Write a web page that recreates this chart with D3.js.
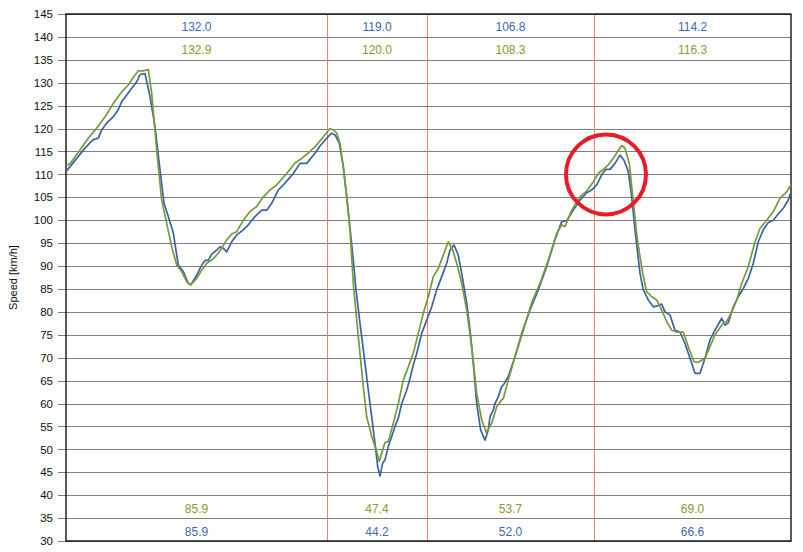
<!DOCTYPE html>
<html>
<head>
<meta charset="utf-8">
<script src="https://cdn.jsdelivr.net/npm/d3@7/dist/d3.min.js"></script>
<style>
  html, body { margin: 0; padding: 0; background: #fff; }
  svg { display: block; font-family: "Liberation Sans", Arial, sans-serif; }
</style>
</head>
<body>
<svg id="chart" width="803" height="552"></svg>
<script>
// ---- Data ----
const yTicks = [30,35,40,45,50,55,60,65,70,75,80,85,90,95,100,105,110,115,120,125,130,135,140,145];
const distanceRange = [0, 725];
const sectorBounds = [261, 361, 528];

// Lap 1 (blue): [distance, speed km/h]
const lapBlue = [
  [0,110.6],[4,111.7],[10.7,113.5],[17.3,115.3],[24,116.9],[27.3,117.6],[32.3,117.9],[35.7,119.7],
  [40.7,121.2],[47.3,122.6],[52.3,124.1],[55.7,125.9],[60.7,127.3],[65.7,128.8],[70.7,130.2],[74,131.8],
  [79,132.0],[84,127.0],[89,120.4],[94,111.0],[98,103.7],[102.3,100.8],[107.3,97.2],[112.3,90.2],
  [117.3,88.8],[122.3,86.2],[124.7,85.9],[130.7,88.0],[135.7,90.2],[139,91.2],[142.3,91.3],[145.7,92.6],
  [150.7,93.5],[154,94.2],[157.3,93.9],[160.7,93.1],[165.7,95.3],[170.7,96.8],[177.3,97.9],[182.3,99.0],
  [189,100.8],[195.7,102.2],[200.7,102.2],[205.7,103.7],[212.3,106.6],[219,108.1],[227.3,110.2],[234,112.4],
  [240.7,112.4],[249,114.6],[254,116.2],[260.7,117.9],[265.7,119.0],[269,118.6],[273.3,116.8],[277.3,111.7],
  [280.7,105.1],[284,98.3],[287.3,91.3],[290,84.8],[294,77.5],[299,68.8],[302.3,62.9],[305.7,57.1],
  [309,51.3],[311.7,46.2],[314,44.2],[316.7,47.0],[319,47.7],[322.3,50.6],[325.7,52.8],[329,55.0],
  [332.3,56.8],[335.7,60.0],[340.7,62.9],[344,65.5],[347.3,68.4],[350.7,70.9],[355.7,75.3],[360.7,78.2],
  [365.7,81.1],[370.7,84.8],[375.7,87.7],[380.7,90.6],[384,93.5],[388,94.6],[392.3,92.4],[395.7,88.4],
  [400.7,81.9],[404,76.0],[407.3,68.8],[410.7,60.0],[414.7,54.2],[419,52.0],[422.3,54.2],[424,57.1],
  [427.3,58.6],[429,60.0],[432.3,61.5],[435.7,63.7],[437.3,64.0],[442.3,65.9],[449,70.2],[455.7,75.3],
  [464,80.4],[472.3,84.8],[480.7,89.9],[489,95.8],[495.7,99.7],[500.7,99.9],[507.3,102.2],[514,104.4],
  [520.7,106.0],[525.7,106.6],[530.7,107.7],[535.7,109.9],[540,111.1],[544,111.1],[549,112.4],[554,114.2],
  [558,113.1],[562.3,110.6],[565.7,105.1],[569,97.9],[574,88.4],[577.3,84.8],[582.3,82.6],[587.3,81.1],
  [591.3,81.3],[595.7,81.7],[599,80.0],[604,79.3],[609,76.0],[614,75.6],[619,73.1],[624,69.9],
  [629,66.6],[634,66.6],[639,69.9],[644,73.9],[649,76.0],[655.7,78.6],[659,77.1],[662.3,77.6],
  [667.3,81.1],[672.3,83.3],[677.3,85.1],[682.3,87.3],[687.3,90.6],[692.3,95.3],[697.3,97.9],[702.3,99.5],
  [707.3,100.0],[712.3,101.4],[717.3,102.6],[722.3,104.4],[725,106.2]
];

// Lap 2 (green): [distance, speed km/h]
const lapGreen = [
  [0,112.0],[4,112.3],[14,115.3],[22.3,117.9],[30.7,120.1],[39,122.5],[47.3,125.5],[55.7,128.0],
  [62.3,129.5],[67.3,131.2],[72.3,132.6],[77.3,132.6],[82.3,132.9],[85.7,127.7],[90.7,115.3],[95.7,104.4],
  [100.7,99.3],[105.7,94.2],[110.7,90.2],[115.7,88.8],[120.7,86.6],[124.7,85.9],[130.7,87.3],[135.7,89.1],
  [140.7,90.6],[145.7,91.3],[150.7,92.4],[155.7,93.9],[160.7,95.7],[165.7,97.0],[170.7,97.5],[177.3,100.0],
  [184,101.9],[190.7,103.0],[197.3,105.1],[204,106.6],[210.7,107.7],[220.7,110.2],[229,112.5],[235.7,113.5],
  [244,115.0],[250.7,116.4],[257.3,118.2],[264,120.0],[267.3,119.7],[270.7,119.0],[274,116.8],[277.3,111.7],
  [280.7,105.1],[284,97.9],[287.3,86.2],[292.3,74.6],[297.3,63.7],[300.7,57.1],[305.7,52.8],[310.7,49.5],
  [313.3,47.4],[316.7,49.9],[319,51.5],[322.3,51.7],[327.3,55.7],[332.3,60.0],[337.3,65.1],[342.3,68.0],
  [347.3,71.0],[352.3,75.3],[357.3,79.7],[362.3,83.3],[367.3,87.7],[372.3,89.5],[377.3,92.4],[382.3,95.3],
  [386.7,93.5],[390.7,90.6],[395.7,86.2],[400.7,80.4],[405.7,72.4],[410.7,62.2],[415.7,56.4],[420.3,53.7],
  [425.7,55.7],[430.7,59.3],[435.7,60.8],[437.3,61.1],[442.3,65.1],[449,70.2],[457.3,76.0],[465.7,82.0],
  [474,86.2],[482.3,91.3],[490.7,97.1],[495.7,99.0],[499,98.6],[505.7,102.2],[514,105.1],[520.7,106.4],
  [527,108.3],[533,110.4],[537,111.0],[542.3,112.1],[547.3,113.5],[552.3,115.2],[555.7,116.3],[559,115.7],
  [563.3,112.4],[567.5,103.7],[571,96.4],[573.3,93.0],[576.7,88.4],[580.7,84.4],[585.7,83.3],[590.7,82.6],
  [595.7,80.4],[600.7,77.9],[605.7,76.0],[610.7,75.6],[617.3,75.6],[622.3,72.4],[628,69.1],[632.3,69.0],
  [639,69.9],[644,72.4],[649,75.0],[655.7,77.1],[660.7,77.9],[665.7,80.0],[670.7,82.6],[675.7,86.2],
  [682.3,89.9],[689,95.3],[694,98.2],[700.7,100.0],[707.3,101.9],[714,104.8],[720.7,106.2],[725,107.7]
];

const blueMax  = ["132.0","119.0","106.8","114.2"];
const greenMax = ["132.9","120.0","108.3","116.3"];
const greenMin = ["85.9","47.4","53.7","69.0"];
const blueMin  = ["85.9","44.2","52.0","66.6"];
const highlight = [540, 110];
const yTitle = "Speed [km/h]";

(function () {
// ---- Layout ----
const svg = d3.select("#chart");
const mLeft = 66, mRight = 791, mTop = 14, mBottom = 541;
const x = d3.scaleLinear().domain(distanceRange).range([mLeft, mRight]);
const y = d3.scaleLinear().domain([30, 145]).range([mBottom, mTop]);

const blueLine = "#3b63a6", greenLine = "#789a3a";
const blueText = "#4169b2", greenText = "#8a9a2c";

// Gridlines + ticks via axis
const yAxis = d3.axisLeft(y).tickValues(yTicks).tickSize(0).tickFormat(d3.format("d"));
const gy = svg.append("g").attr("transform", `translate(${mLeft},0)`).call(yAxis);
gy.select(".domain").remove();
gy.selectAll(".tick line").attr("stroke", "#7f7f7f").attr("stroke-width", 1)
  .attr("x1", -8).attr("x2", mRight - mLeft).attr("shape-rendering", "crispEdges");
gy.selectAll(".tick text").attr("x", -13).attr("fill", "#111").attr("font-size", "11.5px")
  .attr("font-family", "Liberation Sans, Arial, sans-serif");

// Sector boundary lines
svg.append("g").selectAll("line").data(sectorBounds).join("line")
  .attr("x1", d => Math.round(x(d)) + 0.5).attr("x2", d => Math.round(x(d)) + 0.5)
  .attr("y1", mTop).attr("y2", mBottom)
  .attr("stroke", "#f47c7c").attr("stroke-width", 1);

// Frame
svg.append("rect").attr("x", mLeft).attr("y", mTop).attr("width", mRight - mLeft).attr("height", mBottom - mTop)
  .attr("fill", "none").attr("stroke", "#000").attr("stroke-width", 1.3);

// Lines
const line = d3.line().x(d => x(d[0])).y(d => y(d[1]));
svg.append("path").datum(lapBlue).attr("d", line).attr("fill", "none").attr("stroke", blueLine).attr("stroke-width", 1.7).attr("stroke-linejoin", "round");
svg.append("path").datum(lapGreen).attr("d", line).attr("fill", "none").attr("stroke", greenLine).attr("stroke-width", 1.7).attr("stroke-linejoin", "round");

// Sector labels
const edges = [distanceRange[0], ...sectorBounds, distanceRange[1]];
const centers = d3.range(4).map(i => (x(edges[i]) + x(edges[i + 1])) / 2);
function labels(arr, v0, v1, color) {
  svg.append("g").selectAll("text").data(arr).join("text")
    .attr("x", (d, i) => centers[i])
    .attr("y", (y(v0) + y(v1)) / 2 + 2)
    .attr("text-anchor", "middle").attr("dominant-baseline", "central")
    .attr("font-size", "12px").attr("fill", color).text(d => d);
}
labels(blueMax, 145, 140, blueText);
labels(greenMax, 140, 135, greenText);
labels(greenMin, 40, 35, greenText);
labels(blueMin, 35, 30, blueText);

// Y title
svg.append("text").attr("transform", `translate(17,${(mTop + mBottom) / 2}) rotate(-90)`)
  .attr("text-anchor", "middle").attr("font-size", "11px").attr("fill", "#111").text(yTitle);

// Highlight circle
svg.append("circle").attr("cx", x(highlight[0])).attr("cy", y(highlight[1])).attr("r", 40)
  .attr("fill", "none").attr("stroke", "#e81c24").attr("stroke-width", 4);
})();
</script>
</body>
</html>
